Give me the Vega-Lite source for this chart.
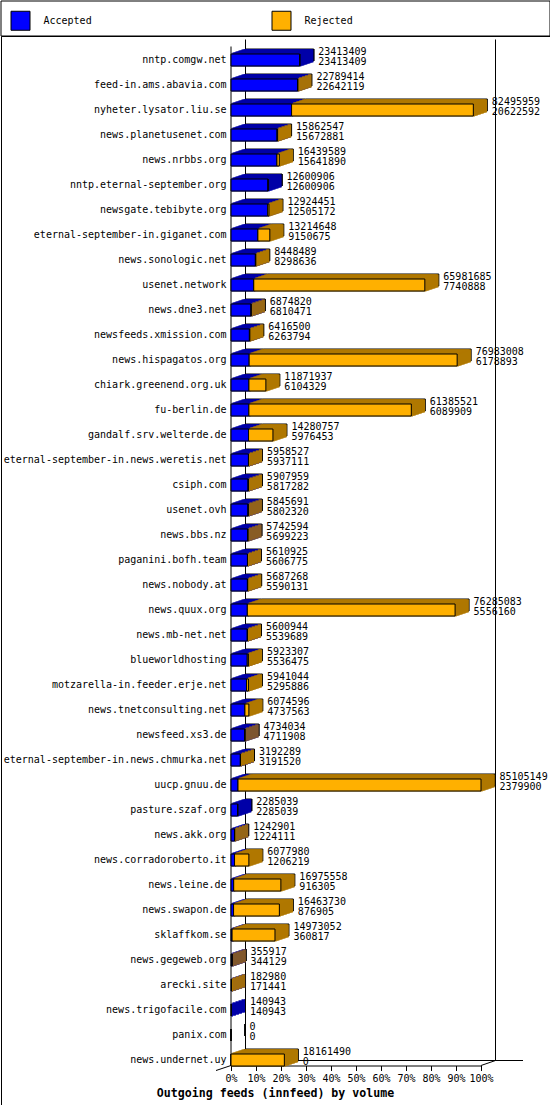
{
  "$schema": "https://vega.github.io/schema/vega-lite/v6.json",
  "padding": 0,
  "background": "white",
  "spacing": 0,
  "bounds": "flush",
  "config": {
    "view": {"stroke": "black", "strokeWidth": 1},
    "font": "DejaVu Sans Mono",
    "axis": {"grid": false}
  },
  "datasets": {
    "frame": [{"lo": 0, "hi": 85105149, "first": "nntp.comgw.net", "last": "news.undernet.uy"}],
    "feeds": [
      {"host": "nntp.comgw.net", "total": 23413409, "accepted": 23413409},
      {"host": "feed-in.ams.abavia.com", "total": 22789414, "accepted": 22642119},
      {"host": "nyheter.lysator.liu.se", "total": 82495959, "accepted": 20622592},
      {"host": "news.planetusenet.com", "total": 15862547, "accepted": 15672881},
      {"host": "news.nrbbs.org", "total": 16439589, "accepted": 15641890},
      {"host": "nntp.eternal-september.org", "total": 12600906, "accepted": 12600906},
      {"host": "newsgate.tebibyte.org", "total": 12924451, "accepted": 12505172},
      {"host": "eternal-september-in.giganet.com", "total": 13214648, "accepted": 9150675},
      {"host": "news.sonologic.net", "total": 8448489, "accepted": 8298636},
      {"host": "usenet.network", "total": 65981685, "accepted": 7740888},
      {"host": "news.dne3.net", "total": 6874820, "accepted": 6810471},
      {"host": "newsfeeds.xmission.com", "total": 6416500, "accepted": 6263794},
      {"host": "news.hispagatos.org", "total": 76983008, "accepted": 6178893},
      {"host": "chiark.greenend.org.uk", "total": 11871937, "accepted": 6104329},
      {"host": "fu-berlin.de", "total": 61385521, "accepted": 6089909},
      {"host": "gandalf.srv.welterde.de", "total": 14280757, "accepted": 5976453},
      {"host": "eternal-september-in.news.weretis.net", "total": 5958527, "accepted": 5937111},
      {"host": "csiph.com", "total": 5907959, "accepted": 5817282},
      {"host": "usenet.ovh", "total": 5845691, "accepted": 5802320},
      {"host": "news.bbs.nz", "total": 5742594, "accepted": 5699223},
      {"host": "paganini.bofh.team", "total": 5610925, "accepted": 5606775},
      {"host": "news.nobody.at", "total": 5687268, "accepted": 5590131},
      {"host": "news.quux.org", "total": 76285083, "accepted": 5556160},
      {"host": "news.mb-net.net", "total": 5600944, "accepted": 5539689},
      {"host": "blueworldhosting", "total": 5923307, "accepted": 5536475},
      {"host": "motzarella-in.feeder.erje.net", "total": 5941044, "accepted": 5295886},
      {"host": "news.tnetconsulting.net", "total": 6074596, "accepted": 4737563},
      {"host": "newsfeed.xs3.de", "total": 4734034, "accepted": 4711908},
      {"host": "eternal-september-in.news.chmurka.net", "total": 3192289, "accepted": 3191520},
      {"host": "uucp.gnuu.de", "total": 85105149, "accepted": 2379900},
      {"host": "pasture.szaf.org", "total": 2285039, "accepted": 2285039},
      {"host": "news.akk.org", "total": 1242901, "accepted": 1224111},
      {"host": "news.corradoroberto.it", "total": 6077980, "accepted": 1206219},
      {"host": "news.leine.de", "total": 16975558, "accepted": 916305},
      {"host": "news.swapon.de", "total": 16463730, "accepted": 876905},
      {"host": "sklaffkom.se", "total": 14973052, "accepted": 360817},
      {"host": "news.gegeweb.org", "total": 355917, "accepted": 344129},
      {"host": "arecki.site", "total": 182980, "accepted": 171441},
      {"host": "news.trigofacile.com", "total": 140943, "accepted": 140943},
      {"host": "panix.com", "total": 0, "accepted": 0},
      {"host": "news.undernet.uy", "total": 18161490, "accepted": 0}
    ]
  },
  "vconcat": [
    {
      "width": 549,
      "height": 35,
      "data": {"name": "frame"},
      "mark": {"type": "rect", "filled": false, "color": "black", "strokeWidth": 1},
      "encoding": {}
    },
    {
      "width": 549,
      "height": 1069,
      "data": {"name": "feeds"},
      "layer": [
        {
          "mark": {"type": "bar", "color": "#0000ff", "opacity": 0},
          "encoding": {
            "x": {"field": "accepted", "type": "quantitative", "stack": "zero",
              "scale": {"domain": [0, 85105149], "range": [230, 480], "nice": false, "zero": true},
              "axis": {
                "orient": "bottom", "offset": -39.5,
                "values": [0, 8510514.9, 17021029.8, 25531544.7, 34042059.6, 42552574.5, 51063089.4, 59573604.3, 68084119.2, 76594634.1, 85105149],
                "labelExpr": "round(datum.value / 85105149 * 100) + '%'",
                "domainColor": "black", "domainWidth": 1,
                "tickColor": "black", "tickSize": 5, "tickWidth": 1,
                "labelFont": "DejaVu Sans Mono", "labelFontSize": 10, "labelColor": "black",
                "labelBaseline": "alphabetic", "labelPadding": 11, "labelFlush": false, "labelOverlap": false,
                "title": "Outgoing feeds (innfeed) by volume",
                "titleFont": "DejaVu Sans Mono", "titleFontSize": 11.6, "titleFontWeight": "bold", "titleColor": "black",
                "titleX": 274, "titleY": 30.5, "titleAlign": "center", "titleBaseline": "alphabetic"
              }
            },
            "y": {"field": "host", "type": "nominal",
              "scale": {"type": "band", "domain": ["nntp.comgw.net", "feed-in.ams.abavia.com", "nyheter.lysator.liu.se", "news.planetusenet.com", "news.nrbbs.org", "nntp.eternal-september.org", "newsgate.tebibyte.org", "eternal-september-in.giganet.com", "news.sonologic.net", "usenet.network", "news.dne3.net", "newsfeeds.xmission.com", "news.hispagatos.org", "chiark.greenend.org.uk", "fu-berlin.de", "gandalf.srv.welterde.de", "eternal-september-in.news.weretis.net", "csiph.com", "usenet.ovh", "news.bbs.nz", "paganini.bofh.team", "news.nobody.at", "news.quux.org", "news.mb-net.net", "blueworldhosting", "motzarella-in.feeder.erje.net", "news.tnetconsulting.net", "newsfeed.xs3.de", "eternal-september-in.news.chmurka.net", "uucp.gnuu.de", "pasture.szaf.org", "news.akk.org", "news.corradoroberto.it", "news.leine.de", "news.swapon.de", "sklaffkom.se", "news.gegeweb.org", "arecki.site", "news.trigofacile.com", "panix.com", "news.undernet.uy"],
                "range": [11.5, 1036.5], "paddingInner": 0.52, "paddingOuter": 0.26},
              "axis": {"orient": "left", "offset": -230, "domain": false, "ticks": false, "labelPadding": 5,
                "labelFont": "DejaVu Sans Mono", "labelFontSize": 10, "labelColor": "black", "labelLimit": 400,
                "labelBaseline": "alphabetic", "labelOffset": 3, "title": null}
            }
          }
        },
        {
          "data": {"name": "frame"},
          "mark": {"type": "rule", "color": "black", "strokeWidth": 1, "yOffset": -13.5, "y2Offset": 5.5},
          "encoding": {"x": {"field": "lo", "type": "quantitative"}, "y": {"field": "first", "type": "nominal"}, "y2": {"field": "last"}}
        },
        {
          "data": {"name": "frame"},
          "mark": {"type": "rule", "color": "black", "strokeWidth": 1, "xOffset": 14.5, "yOffset": -20.5, "y2Offset": 0.5},
          "encoding": {"x": {"field": "lo", "type": "quantitative"}, "y": {"field": "first", "type": "nominal"}, "y2": {"field": "last"}}
        },
        {
          "data": {"name": "frame"},
          "mark": {"type": "rule", "color": "black", "strokeWidth": 1, "xOffset": 14.5, "yOffset": -20.5, "y2Offset": 0.5},
          "encoding": {"x": {"field": "hi", "type": "quantitative"}, "y": {"field": "first", "type": "nominal"}, "y2": {"field": "last"}}
        },
        {
          "data": {"name": "frame"},
          "mark": {"type": "rule", "color": "black", "strokeWidth": 1, "xOffset": 14.5, "x2Offset": 42, "yOffset": 0.5},
          "encoding": {"x": {"field": "lo", "type": "quantitative"}, "x2": {"field": "hi"}, "y": {"field": "last", "type": "nominal"}}
        },
        {
          "data": {"name": "frame"},
          "mark": {"type": "rule", "color": "black", "strokeWidth": 1, "x2Offset": 14.5, "yOffset": 5.5, "y2Offset": 0.5},
          "encoding": {"x": {"field": "hi", "type": "quantitative"}, "x2": {"field": "hi"}, "y": {"field": "last", "type": "nominal"}, "y2": {"field": "last"}}
        },
        {
          "data": {"name": "frame"},
          "mark": {"type": "rule", "color": "black", "strokeWidth": 1, "xOffset": -15, "yOffset": 10.5, "y2Offset": 5.5},
          "encoding": {"x": {"field": "lo", "type": "quantitative"}, "x2": {"field": "lo"}, "y": {"field": "last", "type": "nominal"}, "y2": {"field": "last"}}
        },
        {
          "mark": {"type": "bar", "color": "#0000a8", "stroke": "black", "strokeWidth": 1, "xOffset": 14, "x2Offset": 14, "yOffset": -5, "y2Offset": -5},
          "encoding": {"y": {"field": "host", "type": "nominal"}, "x": {"field": "accepted", "type": "quantitative", "stack": "zero"}}
        },
        {
          "mark": {"type": "rect", "color": "#b07800", "stroke": "black", "strokeWidth": 1, "xOffset": 14, "x2Offset": 14, "yOffset": -5, "y2Offset": -5},
          "encoding": {"y": {"field": "host", "type": "nominal"}, "x": {"field": "accepted", "type": "quantitative"}, "x2": {"field": "total"}}
        },
        {"mark": {"type": "bar", "color": "#0000a8", "stroke": "#0000a8", "strokeWidth": 1.2, "xOffset": 13, "x2Offset": 13, "yOffset": -4, "y2Offset": -4},
         "encoding": {"y": {"field": "host", "type": "nominal"}, "x": {"field": "accepted", "type": "quantitative", "stack": "zero"}, "strokeOpacity": {"condition": {"test": "datum.accepted > 0", "value": 1}, "value": 0}}},
        {"mark": {"type": "rect", "color": "#b07800", "stroke": "#b07800", "strokeWidth": 1.2, "xOffset": 13, "x2Offset": 13, "yOffset": -4, "y2Offset": -4},
         "encoding": {"y": {"field": "host", "type": "nominal"}, "x": {"field": "accepted", "type": "quantitative"}, "x2": {"field": "total"}, "strokeOpacity": {"condition": {"test": "datum.total > datum.accepted", "value": 1}, "value": 0}}},
        {"mark": {"type": "bar", "color": "#0000a8", "stroke": "#0000a8", "strokeWidth": 1.2, "xOffset": 12, "x2Offset": 12, "yOffset": -4, "y2Offset": -4},
         "encoding": {"y": {"field": "host", "type": "nominal"}, "x": {"field": "accepted", "type": "quantitative", "stack": "zero"}, "strokeOpacity": {"condition": {"test": "datum.accepted > 0", "value": 1}, "value": 0}}},
        {"mark": {"type": "rect", "color": "#b07800", "stroke": "#b07800", "strokeWidth": 1.2, "xOffset": 12, "x2Offset": 12, "yOffset": -4, "y2Offset": -4},
         "encoding": {"y": {"field": "host", "type": "nominal"}, "x": {"field": "accepted", "type": "quantitative"}, "x2": {"field": "total"}, "strokeOpacity": {"condition": {"test": "datum.total > datum.accepted", "value": 1}, "value": 0}}},
        {"mark": {"type": "bar", "color": "#0000a8", "stroke": "#0000a8", "strokeWidth": 1.2, "xOffset": 11, "x2Offset": 11, "yOffset": -4, "y2Offset": -4},
         "encoding": {"y": {"field": "host", "type": "nominal"}, "x": {"field": "accepted", "type": "quantitative", "stack": "zero"}, "strokeOpacity": {"condition": {"test": "datum.accepted > 0", "value": 1}, "value": 0}}},
        {"mark": {"type": "rect", "color": "#b07800", "stroke": "#b07800", "strokeWidth": 1.2, "xOffset": 11, "x2Offset": 11, "yOffset": -4, "y2Offset": -4},
         "encoding": {"y": {"field": "host", "type": "nominal"}, "x": {"field": "accepted", "type": "quantitative"}, "x2": {"field": "total"}, "strokeOpacity": {"condition": {"test": "datum.total > datum.accepted", "value": 1}, "value": 0}}},
        {"mark": {"type": "bar", "color": "#0000a8", "stroke": "#0000a8", "strokeWidth": 1.2, "xOffset": 10, "x2Offset": 10, "yOffset": -3, "y2Offset": -3},
         "encoding": {"y": {"field": "host", "type": "nominal"}, "x": {"field": "accepted", "type": "quantitative", "stack": "zero"}, "strokeOpacity": {"condition": {"test": "datum.accepted > 0", "value": 1}, "value": 0}}},
        {"mark": {"type": "rect", "color": "#b07800", "stroke": "#b07800", "strokeWidth": 1.2, "xOffset": 10, "x2Offset": 10, "yOffset": -3, "y2Offset": -3},
         "encoding": {"y": {"field": "host", "type": "nominal"}, "x": {"field": "accepted", "type": "quantitative"}, "x2": {"field": "total"}, "strokeOpacity": {"condition": {"test": "datum.total > datum.accepted", "value": 1}, "value": 0}}},
        {"mark": {"type": "bar", "color": "#0000a8", "stroke": "#0000a8", "strokeWidth": 1.2, "xOffset": 9, "x2Offset": 9, "yOffset": -3, "y2Offset": -3},
         "encoding": {"y": {"field": "host", "type": "nominal"}, "x": {"field": "accepted", "type": "quantitative", "stack": "zero"}, "strokeOpacity": {"condition": {"test": "datum.accepted > 0", "value": 1}, "value": 0}}},
        {"mark": {"type": "rect", "color": "#b07800", "stroke": "#b07800", "strokeWidth": 1.2, "xOffset": 9, "x2Offset": 9, "yOffset": -3, "y2Offset": -3},
         "encoding": {"y": {"field": "host", "type": "nominal"}, "x": {"field": "accepted", "type": "quantitative"}, "x2": {"field": "total"}, "strokeOpacity": {"condition": {"test": "datum.total > datum.accepted", "value": 1}, "value": 0}}},
        {"mark": {"type": "bar", "color": "#0000a8", "stroke": "#0000a8", "strokeWidth": 1.2, "xOffset": 8, "x2Offset": 8, "yOffset": -3, "y2Offset": -3},
         "encoding": {"y": {"field": "host", "type": "nominal"}, "x": {"field": "accepted", "type": "quantitative", "stack": "zero"}, "strokeOpacity": {"condition": {"test": "datum.accepted > 0", "value": 1}, "value": 0}}},
        {"mark": {"type": "rect", "color": "#b07800", "stroke": "#b07800", "strokeWidth": 1.2, "xOffset": 8, "x2Offset": 8, "yOffset": -3, "y2Offset": -3},
         "encoding": {"y": {"field": "host", "type": "nominal"}, "x": {"field": "accepted", "type": "quantitative"}, "x2": {"field": "total"}, "strokeOpacity": {"condition": {"test": "datum.total > datum.accepted", "value": 1}, "value": 0}}},
        {"mark": {"type": "bar", "color": "#0000a8", "stroke": "#0000a8", "strokeWidth": 1.2, "xOffset": 7, "x2Offset": 7, "yOffset": -2, "y2Offset": -2},
         "encoding": {"y": {"field": "host", "type": "nominal"}, "x": {"field": "accepted", "type": "quantitative", "stack": "zero"}, "strokeOpacity": {"condition": {"test": "datum.accepted > 0", "value": 1}, "value": 0}}},
        {"mark": {"type": "rect", "color": "#b07800", "stroke": "#b07800", "strokeWidth": 1.2, "xOffset": 7, "x2Offset": 7, "yOffset": -2, "y2Offset": -2},
         "encoding": {"y": {"field": "host", "type": "nominal"}, "x": {"field": "accepted", "type": "quantitative"}, "x2": {"field": "total"}, "strokeOpacity": {"condition": {"test": "datum.total > datum.accepted", "value": 1}, "value": 0}}},
        {"mark": {"type": "bar", "color": "#0000a8", "stroke": "#0000a8", "strokeWidth": 1.2, "xOffset": 6, "x2Offset": 6, "yOffset": -2, "y2Offset": -2},
         "encoding": {"y": {"field": "host", "type": "nominal"}, "x": {"field": "accepted", "type": "quantitative", "stack": "zero"}, "strokeOpacity": {"condition": {"test": "datum.accepted > 0", "value": 1}, "value": 0}}},
        {"mark": {"type": "rect", "color": "#b07800", "stroke": "#b07800", "strokeWidth": 1.2, "xOffset": 6, "x2Offset": 6, "yOffset": -2, "y2Offset": -2},
         "encoding": {"y": {"field": "host", "type": "nominal"}, "x": {"field": "accepted", "type": "quantitative"}, "x2": {"field": "total"}, "strokeOpacity": {"condition": {"test": "datum.total > datum.accepted", "value": 1}, "value": 0}}},
        {"mark": {"type": "bar", "color": "#0000a8", "stroke": "#0000a8", "strokeWidth": 1.2, "xOffset": 5, "x2Offset": 5, "yOffset": -2, "y2Offset": -2},
         "encoding": {"y": {"field": "host", "type": "nominal"}, "x": {"field": "accepted", "type": "quantitative", "stack": "zero"}, "strokeOpacity": {"condition": {"test": "datum.accepted > 0", "value": 1}, "value": 0}}},
        {"mark": {"type": "rect", "color": "#b07800", "stroke": "#b07800", "strokeWidth": 1.2, "xOffset": 5, "x2Offset": 5, "yOffset": -2, "y2Offset": -2},
         "encoding": {"y": {"field": "host", "type": "nominal"}, "x": {"field": "accepted", "type": "quantitative"}, "x2": {"field": "total"}, "strokeOpacity": {"condition": {"test": "datum.total > datum.accepted", "value": 1}, "value": 0}}},
        {"mark": {"type": "bar", "color": "#0000a8", "stroke": "#0000a8", "strokeWidth": 1.2, "xOffset": 4, "x2Offset": 4, "yOffset": -1, "y2Offset": -1},
         "encoding": {"y": {"field": "host", "type": "nominal"}, "x": {"field": "accepted", "type": "quantitative", "stack": "zero"}, "strokeOpacity": {"condition": {"test": "datum.accepted > 0", "value": 1}, "value": 0}}},
        {"mark": {"type": "rect", "color": "#b07800", "stroke": "#b07800", "strokeWidth": 1.2, "xOffset": 4, "x2Offset": 4, "yOffset": -1, "y2Offset": -1},
         "encoding": {"y": {"field": "host", "type": "nominal"}, "x": {"field": "accepted", "type": "quantitative"}, "x2": {"field": "total"}, "strokeOpacity": {"condition": {"test": "datum.total > datum.accepted", "value": 1}, "value": 0}}},
        {"mark": {"type": "bar", "color": "#0000a8", "stroke": "#0000a8", "strokeWidth": 1.2, "xOffset": 3, "x2Offset": 3, "yOffset": -1, "y2Offset": -1},
         "encoding": {"y": {"field": "host", "type": "nominal"}, "x": {"field": "accepted", "type": "quantitative", "stack": "zero"}, "strokeOpacity": {"condition": {"test": "datum.accepted > 0", "value": 1}, "value": 0}}},
        {"mark": {"type": "rect", "color": "#b07800", "stroke": "#b07800", "strokeWidth": 1.2, "xOffset": 3, "x2Offset": 3, "yOffset": -1, "y2Offset": -1},
         "encoding": {"y": {"field": "host", "type": "nominal"}, "x": {"field": "accepted", "type": "quantitative"}, "x2": {"field": "total"}, "strokeOpacity": {"condition": {"test": "datum.total > datum.accepted", "value": 1}, "value": 0}}},
        {"mark": {"type": "bar", "color": "#0000a8", "stroke": "#0000a8", "strokeWidth": 1.2, "xOffset": 2, "x2Offset": 2, "yOffset": -1, "y2Offset": -1},
         "encoding": {"y": {"field": "host", "type": "nominal"}, "x": {"field": "accepted", "type": "quantitative", "stack": "zero"}, "strokeOpacity": {"condition": {"test": "datum.accepted > 0", "value": 1}, "value": 0}}},
        {"mark": {"type": "rect", "color": "#b07800", "stroke": "#b07800", "strokeWidth": 1.2, "xOffset": 2, "x2Offset": 2, "yOffset": -1, "y2Offset": -1},
         "encoding": {"y": {"field": "host", "type": "nominal"}, "x": {"field": "accepted", "type": "quantitative"}, "x2": {"field": "total"}, "strokeOpacity": {"condition": {"test": "datum.total > datum.accepted", "value": 1}, "value": 0}}},
        {"mark": {"type": "bar", "color": "#0000a8", "stroke": "#0000a8", "strokeWidth": 1.2, "xOffset": 1, "x2Offset": 1},
         "encoding": {"y": {"field": "host", "type": "nominal"}, "x": {"field": "accepted", "type": "quantitative", "stack": "zero"}, "strokeOpacity": {"condition": {"test": "datum.accepted > 0", "value": 1}, "value": 0}}},
        {"mark": {"type": "rect", "color": "#b07800", "stroke": "#b07800", "strokeWidth": 1.2, "xOffset": 1, "x2Offset": 1},
         "encoding": {"y": {"field": "host", "type": "nominal"}, "x": {"field": "accepted", "type": "quantitative"}, "x2": {"field": "total"}, "strokeOpacity": {"condition": {"test": "datum.total > datum.accepted", "value": 1}, "value": 0}}},
        {
          "mark": {"type": "bar", "stroke": "black", "strokeWidth": 1},
          "encoding": {
            "y": {"field": "host", "type": "nominal"},
            "x": {"field": "accepted", "type": "quantitative", "stack": "zero"},
            "color": {"datum": "Accepted", "type": "nominal",
              "scale": {"domain": ["Accepted", "Rejected"], "range": ["#0000ff", "#ffb000"]},
              "legend": {"orient": "none", "legendX": 9.5, "legendY": 9.5, "direction": "horizontal", "columns": 2, "columnPadding": 177,
                "symbolType": "square", "symbolSize": 361, "symbolStrokeColor": "black", "symbolStrokeWidth": 1, "symbolOpacity": 1,
                "labelFont": "DejaVu Sans Mono", "labelFontSize": 10, "labelColor": "black", "labelOffset": 13, "title": null, "padding": 0}}
          }
        },
        {
          "mark": {"type": "rect", "stroke": "black", "strokeWidth": 1},
          "encoding": {
            "y": {"field": "host", "type": "nominal"},
            "x": {"field": "accepted", "type": "quantitative"},
            "x2": {"field": "total"},
            "color": {"datum": "Rejected", "type": "nominal"}
          }
        },
        {
          "mark": {"type": "text", "align": "left", "baseline": "alphabetic", "dx": 18.5, "dy": -5.5, "font": "DejaVu Sans Mono", "fontSize": 10, "color": "black"},
          "encoding": {
            "y": {"field": "host", "type": "nominal"},
            "x": {"field": "total", "type": "quantitative"},
            "text": {"field": "total", "type": "quantitative", "format": "d"}
          }
        },
        {
          "mark": {"type": "text", "align": "left", "baseline": "alphabetic", "dx": 18.5, "dy": 5, "font": "DejaVu Sans Mono", "fontSize": 10, "color": "black"},
          "encoding": {
            "y": {"field": "host", "type": "nominal"},
            "x": {"field": "total", "type": "quantitative"},
            "text": {"field": "accepted", "type": "quantitative", "format": "d"}
          }
        }
      ]
    }
  ]
}
